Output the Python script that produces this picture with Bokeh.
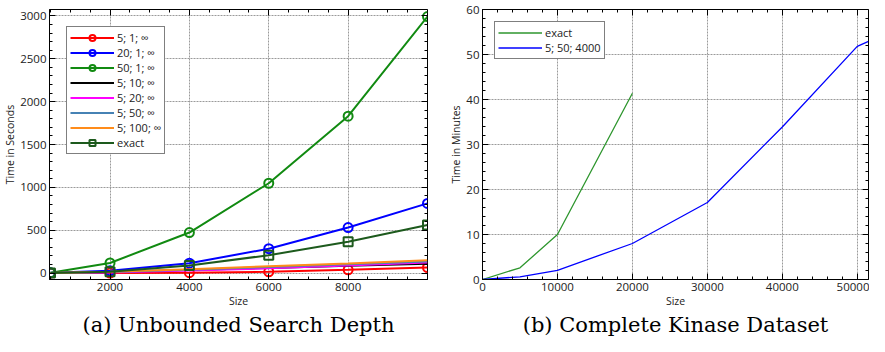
from bokeh.plotting import figure
from bokeh.layouts import row
from bokeh.models import LinearAxis, FixedTicker, Range1d, Legend
from bokeh.embed import file_html
from bokeh.resources import INLINE

# ---------------- data (a) ----------------
sizes_a = [500, 2000, 4000, 6000, 8000, 10000]
t_5_1 = [0, 0, 5, 15, 38, 65]
t_20_1 = [3, 26, 115, 284, 531, 813]
t_50_1 = [5, 118, 473, 1048, 1830, 2992]
t_5_10 = [0, 10, 35, 60, 85, 110]
t_5_20 = [0, 8, 30, 55, 88, 122]
t_5_50 = [0, 12, 40, 70, 102, 135]
t_5_100 = [0, 15, 45, 80, 112, 150]
t_exact_a = [0, 16, 89, 208, 366, 562]
labels_a = ["5; 1; \u221e", "20; 1; \u221e", "50; 1; \u221e", "5; 10; \u221e",
            "5; 20; \u221e", "5; 50; \u221e", "5; 100; \u221e", "exact"]

# ---------------- data (b) ----------------
sizes_b_exact = [0, 5000, 10000, 20000]
min_exact = [0, 2.6, 10, 41.4]
sizes_b_approx = [0, 5000, 10000, 20000, 30000, 40000, 50000, 51500]
min_approx = [0, 0.6, 2.05, 8.0, 17.1, 33.9, 51.8, 52.9]
labels_b = ["exact", "5; 50; 4000"]

captions = ["(a) Unbounded Search Depth", "(b) Complete Kinase Dataset"]

TICK_FONT = "Open Sans"
FIG_H = 336
BOTTOM = 57


def style(p, xmaj, xmin, ymaj, ymin, xlabel, ylabel):
    xt = FixedTicker(ticks=xmaj, minor_ticks=xmin)
    yt = FixedTicker(ticks=ymaj, minor_ticks=ymin)
    p.xaxis.ticker = xt
    p.yaxis.ticker = yt
    p.xaxis.axis_label = xlabel
    p.yaxis.axis_label = ylabel
    for ax in [p.xaxis[0], p.yaxis[0]]:
        ax.major_tick_in = 6
        ax.major_tick_out = 0
        ax.minor_tick_in = 3
        ax.minor_tick_out = 0
        ax.axis_line_color = "black"
        ax.major_label_text_font = TICK_FONT
        ax.major_label_text_font_size = "11.5px"
        ax.major_label_text_color = "#222222"
        ax.axis_label_text_font = TICK_FONT
        ax.axis_label_text_font_size = "10.5px"
        ax.axis_label_text_font_style = "normal"
        ax.axis_label_text_color = "#222222"
        ax.major_label_standoff = 3
        ax.axis_label_standoff = 0
    p.yaxis.major_label_orientation = "horizontal"
    # mirrored axes (ticks only), pinned to the frame edges
    for loc, tk, ticks, fl in [("above", xt, xmaj, p.y_range.end),
                               ("right", yt, ymaj, p.x_range.end)]:
        ax = LinearAxis(ticker=tk, fixed_location=fl)
        ax.major_label_overrides = {t: "" for t in ticks}
        ax.major_label_standoff = 0
        ax.major_tick_in = 6
        ax.major_tick_out = 0
        ax.minor_tick_in = 3
        ax.minor_tick_out = 0
        ax.axis_line_color = "black"
        p.add_layout(ax, loc)
    p.grid.grid_line_color = "#9a9a9a"
    p.grid.grid_line_dash = "2 1"
    p.grid.grid_line_width = 1
    p.outline_line_color = "black"
    p.title.text_font = "DejaVu Serif"
    p.title.text_font_size = "21px"
    p.title.text_font_style = "normal"
    p.title.align = "center"
    p.title.text_color = "black"
    p.title.standoff = 0


# ---------------- figure (a) ----------------
pa = figure(width=436, height=FIG_H, output_backend="svg",
            toolbar_location=None, x_range=Range1d(475, 10000),
            y_range=Range1d(-75, 3075), title=captions[0], title_location="below",
            min_border_left=46, min_border_top=4, min_border_right=9,
            min_border_bottom=BOTTOM)
style(pa, [2000, 4000, 6000, 8000], list(range(500, 10001, 500)),
      list(range(0, 3001, 500)), list(range(0, 3001, 100)), "Size", "Time in Seconds")

series_a = [t_5_1, t_20_1, t_50_1, t_5_10, t_5_20, t_5_50, t_5_100, t_exact_a]
colors_a = ["#ff0000", "#0000ff", "#118a11", "#000000", "#ff00ff", "#4682b4", "#ff8c1a", "#1d5a1d"]
markers_a = ["circle", "circle", "circle", None, None, None, None, "square"]
items_a = []
for ys, c, m, lab in zip(series_a, colors_a, markers_a, labels_a):
    rs = [pa.line(sizes_a, ys, line_color=c, line_width=2)]
    if m:
        rs.append(pa.scatter(sizes_a, ys, marker=m, size=9, line_color=c,
                             line_width=2, fill_color=None))
    items_a.append((lab, rs))
leg_a = Legend(items=items_a, location="top_left")
pa.add_layout(leg_a)

# ---------------- figure (b) ----------------
pb = figure(width=433, height=FIG_H, output_backend="svg",
            toolbar_location=None, x_range=Range1d(0, 51500),
            y_range=Range1d(0, 60), title=captions[1], title_location="below",
            min_border_left=46, min_border_top=9, min_border_right=1,
            min_border_bottom=BOTTOM)
style(pb, list(range(0, 50001, 10000)), list(range(0, 51501, 2000)),
      list(range(0, 61, 10)), list(range(0, 61, 2)), "Size", "Time in Minutes")
r1 = pb.line(sizes_b_exact, min_exact, line_color="#2e962e", line_width=1.3)
r2 = pb.line(sizes_b_approx, min_approx, line_color="#0000ff", line_width=1.3)
leg_b = Legend(items=[(labels_b[0], [r1]), (labels_b[1], [r2])], location="top_left")
pb.add_layout(leg_b)

for leg, mg in [(leg_a, 17), (leg_b, 12)]:
    leg.margin = mg
    leg.padding = 3
    leg.spacing = 0
    leg.glyph_width = 44
    leg.glyph_height = 15
    leg.label_height = 15
    leg.label_standoff = 3
    leg.label_text_font = TICK_FONT
    leg.label_text_font_size = "11px"
    leg.label_text_color = "#222222"
    leg.border_line_color = "black"
    leg.border_line_width = 1
    leg.background_fill_color = "white"
    leg.background_fill_alpha = 1

layout = row(pa, pb, spacing=0)
with open("out.html", "w") as f:
    f.write(file_html(layout, INLINE))
